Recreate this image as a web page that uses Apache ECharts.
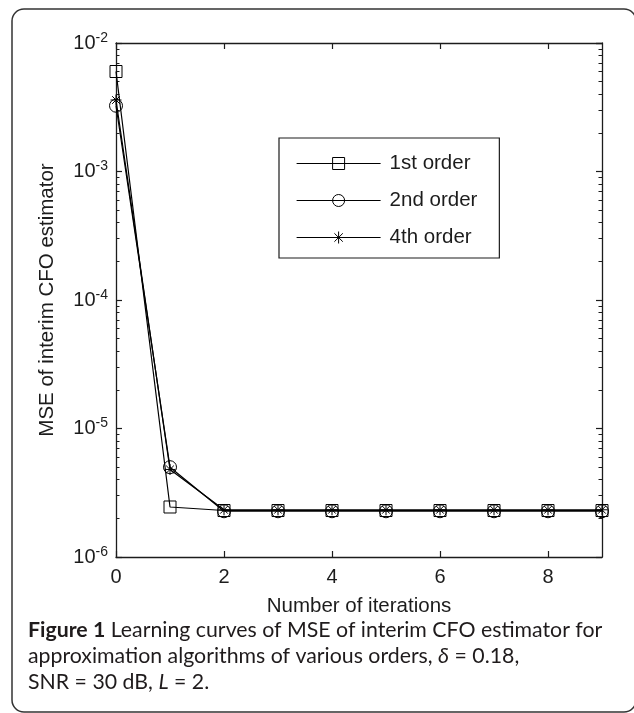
<!DOCTYPE html>
<html>
<head>
<meta charset="utf-8">
<script src="https://cdn.jsdelivr.net/npm/echarts@6/dist/echarts.min.js"></script>
<style>
  html, body { margin: 0; padding: 0; background: #fff; }
  #chart { width: 634px; height: 713px; }
</style>
</head>
<body>
<div id="chart"></div>
<script>
// Iteration index and MSE of the interim CFO estimator per approximation order
const iterations = [0, 1, 2, 3, 4, 5, 6, 7, 8, 9];
const mseFirstOrder  = [6.0e-3, 2.45e-6, 2.30e-6, 2.30e-6, 2.30e-6, 2.30e-6, 2.30e-6, 2.30e-6, 2.30e-6, 2.30e-6];
const mseSecondOrder = [3.25e-3, 5.0e-6, 2.27e-6, 2.27e-6, 2.27e-6, 2.27e-6, 2.27e-6, 2.27e-6, 2.27e-6, 2.27e-6];
const mseFourthOrder = [3.6e-3, 4.8e-6, 2.33e-6, 2.33e-6, 2.33e-6, 2.33e-6, 2.33e-6, 2.33e-6, 2.33e-6, 2.33e-6];
const seriesNames = ['1st order', '2nd order', '4th order'];

// Axis ticks
const xTickValues = [0, 2, 4, 6, 8];
const yExponentLabels = ['-6', '-5', '-4', '-3', '-2'];
const yMinorTickLogs = [];
for (let d = -6; d < -2; d++) {
  for (let m = 2; m <= 9; m++) yMinorTickLogs.push(d + Math.log10(m));
}

const INK = '#1c1c1c';
const CAPTION_INK = '#1f1b1c';
const AXIS_FONT = 'Liberation Sans, Arial, sans-serif';
const CAPTION_FONT = 'Lato, "Noto Sans", sans-serif';
const CAPTION_SIZE = 21.3;

const asterisk = 'path://M5,0L5,10M0,5L10,5M1.5,1.5L8.5,8.5M1.5,8.5L8.5,1.5';

function pairs(ys) { return iterations.map((x, i) => [x, ys[i]]); }

const grid = { left: 116, top: 43, width: 486, height: 514 };

const hiddenLabel = { show: false };
const axisLineStyle = { show: true, lineStyle: { color: INK, width: 1.3 } };
const markerStyle = { color: 'rgba(0,0,0,0)', borderColor: '#000', borderWidth: 1 };

function captionLine(y, text) {
  return {
    type: 'text', x: 28, y: y, silent: true,
    style: {
      text: text,
      verticalAlign: 'middle', fill: CAPTION_INK,
      font: CAPTION_SIZE + 'px ' + CAPTION_FONT,
      rich: {
        b: { fontWeight: 'bold', fontSize: CAPTION_SIZE, fontFamily: CAPTION_FONT, fill: CAPTION_INK },
        i: { fontStyle: 'italic', fontSize: CAPTION_SIZE, fontFamily: CAPTION_FONT, fill: CAPTION_INK }
      }
    }
  };
}

const option = {
  animation: false,
  backgroundColor: '#fff',
  grid: grid,
  xAxis: [
    {
      type: 'value', min: 0, max: 9, position: 'bottom',
      axisLine: axisLineStyle,
      axisTick: { show: true, inside: true, length: 6, customValues: xTickValues, lineStyle: { color: INK, width: 1.2 } },
      axisLabel: { customValues: xTickValues, fontSize: 20, fontFamily: AXIS_FONT, color: INK, margin: 10 },
      splitLine: { show: false },
      name: 'Number of iterations', nameLocation: 'middle', nameGap: 39,
      nameTextStyle: { fontSize: 20.5, fontFamily: AXIS_FONT, color: INK, verticalAlign: 'top' }
    },
    {
      type: 'value', min: 0, max: 9, position: 'top',
      axisLine: axisLineStyle,
      axisTick: { show: true, inside: true, length: 6, customValues: xTickValues, lineStyle: { color: INK, width: 1.2 } },
      axisLabel: hiddenLabel,
      splitLine: { show: false }
    }
  ],
  yAxis: [
    {
      type: 'log', logBase: 10, min: 1e-6, max: 1e-2, position: 'left',
      axisLine: axisLineStyle,
      axisTick: { show: true, inside: true, length: 6, lineStyle: { color: INK, width: 1.2 } },
      axisLabel: {
        margin: 8,
        formatter: function (v, i) { return '{b|10}{s|' + yExponentLabels[i] + '}'; },
        rich: {
          b: { fontSize: 20, fontFamily: AXIS_FONT, color: INK },
          s: { fontSize: 14, fontFamily: AXIS_FONT, color: INK, padding: [0, 0, 10, 0] }
        }
      },
      splitLine: { show: false },
      name: 'MSE of interim CFO estimator', nameLocation: 'middle', nameGap: 58, nameRotate: 90,
      nameTextStyle: { fontSize: 20.5, fontFamily: AXIS_FONT, color: INK }
    },
    {
      type: 'value', min: -6, max: -2, position: 'left',
      axisLine: { show: false },
      axisTick: { show: true, inside: true, length: 3.5, customValues: yMinorTickLogs, lineStyle: { color: INK, width: 1 } },
      axisLabel: hiddenLabel,
      splitLine: { show: false }
    },
    {
      type: 'log', logBase: 10, min: 1e-6, max: 1e-2, position: 'right',
      axisLine: axisLineStyle,
      axisTick: { show: true, inside: true, length: 6, lineStyle: { color: INK, width: 1.2 } },
      axisLabel: hiddenLabel,
      splitLine: { show: false }
    },
    {
      type: 'value', min: -6, max: -2, position: 'right',
      axisLine: { show: false },
      axisTick: { show: true, inside: true, length: 3.5, customValues: yMinorTickLogs, lineStyle: { color: INK, width: 1 } },
      axisLabel: hiddenLabel,
      splitLine: { show: false }
    }
  ],
  legend: {
    orient: 'vertical', left: 279, top: 138,
    itemWidth: 84, itemHeight: 15, itemGap: 16,
    padding: [15, 22, 10, 17],
    borderColor: INK, borderWidth: 1.2, backgroundColor: '#fff',
    selectedMode: false,
    itemStyle: { color: 'rgba(0,0,0,0)', borderColor: '#000', borderWidth: 1 },
    lineStyle: { width: 1.2 },
    textStyle: { fontSize: 20.5, fontFamily: AXIS_FONT, color: INK, padding: [0, 0, 0, 4] },
    data: seriesNames
  },
  series: [
    {
      name: seriesNames[0], type: 'line', data: pairs(mseFirstOrder),
      xAxisIndex: 0, yAxisIndex: 0,
      symbol: 'rect', symbolSize: 12,
      itemStyle: markerStyle,
      lineStyle: { color: '#000', width: 1.2 },
      emphasis: { disabled: true }, z: 3
    },
    {
      name: seriesNames[1], type: 'line', data: pairs(mseSecondOrder),
      xAxisIndex: 0, yAxisIndex: 0,
      symbol: 'circle', symbolSize: 13,
      itemStyle: markerStyle,
      lineStyle: { color: '#000', width: 1.2 },
      emphasis: { disabled: true }, z: 3
    },
    {
      name: seriesNames[2], type: 'line', data: pairs(mseFourthOrder),
      xAxisIndex: 0, yAxisIndex: 0,
      symbol: asterisk, symbolSize: 11,
      itemStyle: markerStyle,
      lineStyle: { color: '#000', width: 1.2 },
      emphasis: { disabled: true }, z: 3
    }
  ],
  graphic: [
    {
      type: 'rect', silent: true, z: -10,
      shape: { x: 12, y: 9, width: 624, height: 703, r: 12 },
      style: { fill: 'none', stroke: '#333', lineWidth: 1.5 }
    },
    captionLine(630, '{b|Figure 1} Learning curves of MSE of interim CFO estimator for'),
    captionLine(656, 'approximation algorithms of various orders, {i|δ} = 0.18,'),
    captionLine(682, 'SNR = 30 dB, {i|L} = 2.')
  ]
};

const chart = echarts.init(document.getElementById('chart'), null, { renderer: 'canvas' });
chart.setOption(option);
</script>
</body>
</html>
